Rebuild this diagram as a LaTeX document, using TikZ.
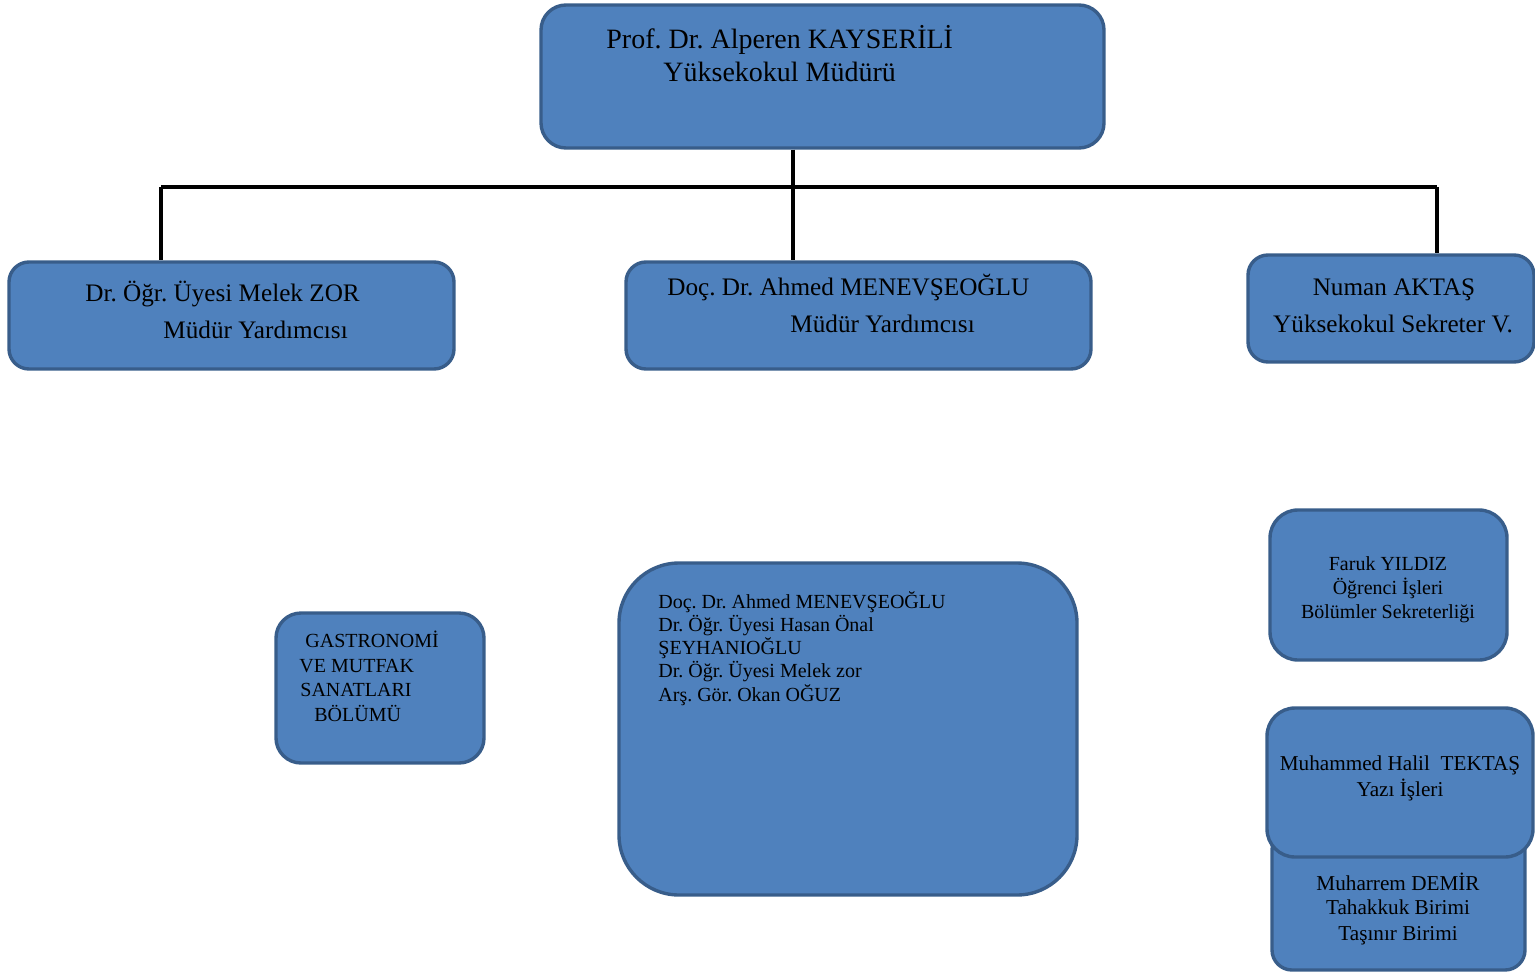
\documentclass[tikz,border=0pt]{standalone}
\usepackage{fontspec}
\setmainfont{Liberation Serif}
\frenchspacing
\usetikzlibrary{fit}
\definecolor{boxfill}{HTML}{4F81BD}
\definecolor{boxline}{HTML}{385D8A}
\tikzset{
  box/.style={draw=boxline, fill=boxfill, line width=1.7pt, inner sep=0pt, rectangle},
  conn/.style={draw=black, line width=2.1pt},
  big/.style={font=\fontsize{14}{16}\selectfont, inner sep=0pt},
  mid/.style={font=\fontsize{12.6}{15}\selectfont, inner sep=0pt},
  small/.style={font=\fontsize{10}{12}\selectfont, inner sep=0pt},
  smallb/.style={font=\fontsize{10.6}{12}\selectfont, inner sep=0pt},
}
\begin{document}
\begin{tikzpicture}[x=0.5pt, y=-0.5pt]
\useasboundingbox (0,0) rectangle (1535,974);
% boxes
\node[box, rounded corners=12.5pt, fit={(541,5) (1104,148)}] (top) {};
\node[box, rounded corners=10pt, fit={(9,262) (454,369)}] (left) {};
\node[box, rounded corners=10pt, fit={(626,262) (1091,369)}] (mid) {};
\node[box, rounded corners=10pt, fit={(1248,255) (1534,362)}] (right) {};
\node[box, rounded corners=12.5pt, fit={(276,613) (484,763)}] (gastro) {};
\node[box, rounded corners=30pt, fit={(619,563) (1077,895)}] (staff) {};
\node[box, rounded corners=14pt, fit={(1270,510) (1507,660)}] (faruk) {};
\node[box, rounded corners=10pt, fit={(1272,830) (1525,970)}] (muharrem) {};
\node[box, rounded corners=14pt, fit={(1267,708) (1533,857)}] (muhammed) {};
% connectors
\coordinate (jl) at (161,187);
\coordinate (jc) at (793,187);
\coordinate (jr) at (1437,187);
\draw[conn] (jl) -- (jr);
\draw[conn] (top.south -| jc) -- (mid.north -| jc);
\draw[conn] (jl) -- (left.north -| jl);
\draw[conn] (jr) -- (right.north -| jr);
% texts
\node[big, anchor=base west] (t1) at (606,49) {Prof. Dr. Alperen KAYSERİLİ};
\node[big, anchor=base west] (t2) at (663,82) {Yüksekokul Müdürü};
\node[mid, anchor=base west] (l1) at (85,301) {Dr. Öğr. Üyesi Melek ZOR};
\node[mid, anchor=base west] (l2) at (163,338) {Müdür Yardımcısı};
\node[mid, anchor=base west] (m1) at (667,295) {Doç. Dr. Ahmed MENEVŞEOĞLU};
\node[mid, anchor=base west] (m2) at (790,332) {Müdür Yardımcısı};
\node[mid, anchor=base] (r1) at (1394,295) {Numan AKTAŞ};
\node[mid, anchor=base] (r2) at (1393,332) {Yüksekokul Sekreter V.};
\node[small, anchor=base west] (g1) at (305,647) {GASTRONOMİ};
\node[small, anchor=base west] (g2) at (299,672) {VE MUTFAK};
\node[small, anchor=base west] (g3) at (300,696) {SANATLARI};
\node[small, anchor=base west] (g4) at (314,721) {BÖLÜMÜ};
\node[small, anchor=base west] (s1) at (658,608) {Doç. Dr. Ahmed MENEVŞEOĞLU};
\node[small, anchor=base west] (s2) at (658,631) {Dr. Öğr. Üyesi Hasan Önal};
\node[small, anchor=base west] (s3) at (658,654) {ŞEYHANIOĞLU};
\node[small, anchor=base west] (s4) at (658,677) {Dr. Öğr. Üyesi Melek zor};
\node[small, anchor=base west] (s5) at (658,701) {Arş. Gör. Okan OĞUZ};
\node[small, anchor=base] (f1) at (1388,570) {Faruk YILDIZ};
\node[small, anchor=base] (f2) at (1388,594) {Öğrenci İşleri};
\node[small, anchor=base] (f3) at (1388,618) {Bölümler Sekreterliği};
\node[smallb, anchor=base] (h1) at (1400,770) {Muhammed Halil\ \ TEKTAŞ};
\node[smallb, anchor=base] (h2) at (1400,796) {Yazı İşleri};
\node[smallb, anchor=base] (d1) at (1398,890) {Muharrem DEMİR};
\node[smallb, anchor=base] (d2) at (1398,914) {Tahakkuk Birimi};
\node[smallb, anchor=base] (d3) at (1398,940) {Taşınır Birimi};
\end{tikzpicture}
\end{document}
